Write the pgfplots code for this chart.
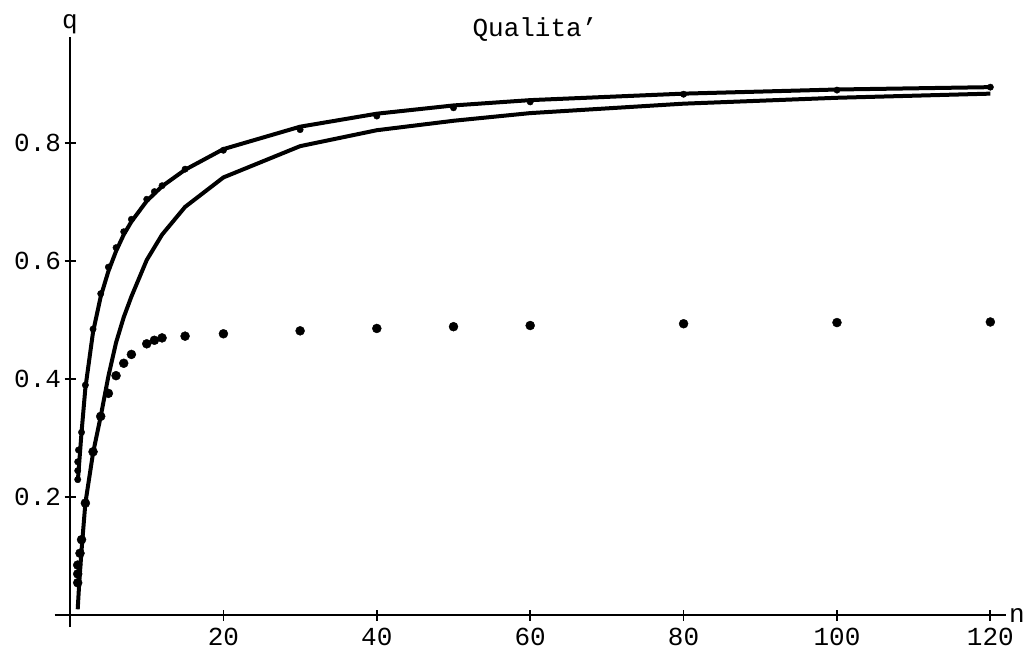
\documentclass[border=0pt]{standalone}
\usepackage{pgfplots}
\pgfplotsset{compat=1.18}
\usepackage{fontspec}
\newfontfamily\cour{Liberation Mono}
\begin{document}
\begin{tikzpicture}[x=1pt,y=1pt]
\useasboundingbox (0,0) rectangle (1029,657);
\begin{axis}[
  at={(54.7pt,30pt)}, anchor=south west,
  scale only axis, width=951pt, height=590pt,
  xmin=-2, xmax=122, ymin=-0.02, ymax=0.98,
  axis lines=middle, axis line style={-, line width=2pt},
  xtick={20,40,60,80,100,120}, ytick={0.2,0.4,0.6,0.8},
  major tick length=11pt, tick align=center,
  tick style={line width=1.8pt, black},
  /pgf/number format/assume math mode=true,
  ticklabel style={font=\cour\fontsize{26}{26}\selectfont},
  xticklabel style={yshift=-4pt},
  yticklabel style={/pgf/number format/.cd, fixed, precision=1},
  xlabel={n}, ylabel={q},
  xlabel style={font=\cour\fontsize{26}{26}\selectfont, at={(rel axis cs:1,0.02)}, anchor=west, xshift=0pt},
  ylabel style={font=\cour\fontsize{26}{26}\selectfont, at={(rel axis cs:0.0161,1)}, anchor=south, yshift=0pt, rotate=0},
  title={Qualita’},
  title style={font=\cour\fontsize{26}{26}\selectfont, at={(rel axis cs:0.505,1)}, anchor=center, yshift=1pt},
  clip=false,
]
% upper line
\addplot[black, line width=4pt, line join=round] coordinates {
(1,0.225) (1.5,0.31) (2,0.385) (3,0.48) (4,0.54) (5,0.583) (6,0.617) (7,0.645) (8,0.667) (10,0.702) (12,0.727) (15,0.755) (20,0.79) (30,0.828) (40,0.85) (50,0.864) (60,0.873) (80,0.884) (100,0.891) (120,0.895)
};
% lower line
\addplot[black, line width=4pt, line join=round] coordinates {
(1,0.01) (1.2,0.055) (1.5,0.11) (2,0.19) (3,0.275) (4,0.337) (5,0.405) (6,0.462) (7,0.505) (8,0.54) (10,0.602) (12,0.645) (15,0.692) (20,0.742) (30,0.795) (40,0.822) (50,0.838) (60,0.851) (80,0.867) (100,0.877) (120,0.884)
};
% upper dots
\addplot[only marks, mark=*, mark size=3.2pt, black] coordinates {
(1,0.23) (1,0.245) (1,0.26) (1.1,0.28) (1.5,0.31) (2,0.39) (3,0.485) (4,0.545) (5,0.59) (6,0.623) (7,0.65) (8,0.671) (10,0.705) (11,0.718) (12,0.728) (15,0.756) (20,0.788) (30,0.823) (40,0.846) (50,0.86) (60,0.87) (80,0.883) (100,0.89) (120,0.895)
};
% lower dots
\addplot[only marks, mark=*, mark size=4.5pt, black] coordinates {
(1,0.055) (1,0.07) (1,0.085) (1.3,0.105) (1.5,0.128) (2,0.19) (3,0.277) (4,0.337) (5,0.376) (6,0.406) (7,0.427) (8,0.442) (10,0.46) (11,0.466) (12,0.47) (15,0.473) (20,0.477) (30,0.482) (40,0.486) (50,0.489) (60,0.491) (80,0.494) (100,0.496) (120,0.497)
};
\end{axis}
\end{tikzpicture}
\end{document}
